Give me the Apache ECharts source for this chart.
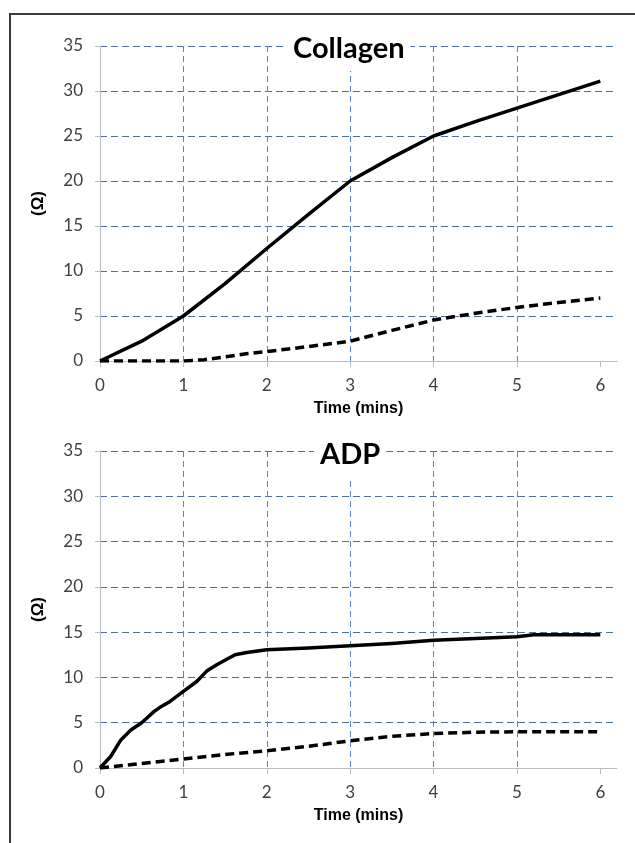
<!DOCTYPE html>
<html>
<head>
<meta charset="utf-8">
<script src="https://cdn.jsdelivr.net/npm/echarts@6/dist/echarts.min.js"></script>
<style>
  html, body { margin: 0; padding: 0; background: #ffffff; overflow: hidden; }
  #wrap { position: relative; width: 635px; height: 843px; }
  #chart { position: absolute; left: 0; top: 0; width: 635px; height: 843px; }
  #frame { position: absolute; left: 9px; top: 13px; width: 700px; height: 900px;
           border-top: 2px solid #3c3c3c; border-left: 2px solid #3c3c3c; pointer-events: none; }
</style>
</head>
<body>
<div id="wrap">
  <div id="chart"></div>
  <div id="frame"></div>
</div>
<script>
// ---- Data ----
const titles = ['Collagen', 'ADP'];
const xTickValues = [0, 1, 2, 3, 4, 5, 6];
const yTickValues = [0, 5, 10, 15, 20, 25, 30, 35];

const collagenSolidTime = [0, 0.5, 1, 1.5, 2, 2.5, 3, 3.5, 4, 4.5, 5, 5.5, 6];
const collagenSolid     = [0, 2.2, 5, 8.6, 12.5, 16.3, 20, 22.6, 25, 26.6, 28.1, 29.6, 31.1];

const collagenDashTime  = [0, 1, 1.25, 1.5, 1.75, 2, 2.5, 3, 3.5, 4, 4.5, 5, 5.5, 6];
const collagenDash      = [0, 0, 0.15, 0.45, 0.8, 1.05, 1.6, 2.2, 3.4, 4.55, 5.3, 5.95, 6.5, 7];

const adpSolidTime = [0, 0.13, 0.25, 0.37, 0.5, 0.65, 0.72, 0.84, 1.0, 1.16, 1.28, 1.4, 1.52, 1.62, 1.76, 2, 2.5, 3, 3.5, 4, 4.5, 5, 5.2, 6];
const adpSolid     = [0, 1.3, 3.1, 4.2, 5.0, 6.25, 6.7, 7.35, 8.45, 9.55, 10.7, 11.4, 12.0, 12.5, 12.75, 13.05, 13.25, 13.5, 13.75, 14.1, 14.3, 14.5, 14.7, 14.7];

const adpDashTime = [0, 1, 1.5, 2, 2.5, 3, 3.5, 4, 4.5, 5, 6];
const adpDash     = [0, 1.0, 1.5, 1.9, 2.4, 3.0, 3.5, 3.8, 3.95, 4.0, 4.0];

function pairs(xs, ys) { return xs.map((x, i) => [x, ys[i]]); }

const tickFont = 'Lato, "Open Sans", sans-serif';
const labelColor = '#404040';

function xAxisCfg(gridIndex) {
  return {
    type: 'value', gridIndex: gridIndex, min: 0, max: 6.2, interval: 1,
    name: 'Time (mins)', nameLocation: 'middle', nameGap: 40,
    nameTextStyle: { fontFamily: '"Liberation Sans", Arial, sans-serif', fontWeight: 'bold', fontSize: 16, color: '#000' },
    axisLine: { show: true, onZero: false, lineStyle: { color: '#bdbdbd', width: 1 } },
    axisTick: { show: true, length: 6, lineStyle: { color: '#bdbdbd' }, customValues: xTickValues },
    axisLabel: { margin: 16, fontFamily: tickFont, fontSize: 17, color: labelColor, customValues: xTickValues,
                 formatter: v => String(v) },
    splitLine: { show: true, showMinLine: false, showMaxLine: false,
                 lineStyle: { color: '#5b82c4', width: 1, type: [6, 4] } }
  };
}
function yAxisCfg(gridIndex) {
  return {
    type: 'value', gridIndex: gridIndex, min: 0, max: 35, interval: 5,
    name: '(Ω)', nameLocation: 'middle', nameGap: 53, nameRotate: 90,
    nameTextStyle: { fontFamily: '"Liberation Sans", Arial, sans-serif', fontWeight: 'bold', fontSize: 17, color: '#000' },
    axisLine: { show: true, lineStyle: { color: '#bdbdbd', width: 1 } },
    axisTick: { show: true, length: 5, lineStyle: { color: '#bdbdbd' } },
    axisLabel: { margin: 17, fontFamily: tickFont, fontSize: 17, color: labelColor },
    splitLine: { show: true, showMinLine: false, showMaxLine: true,
                 lineStyle: { color: '#4f6f9f', width: 1, type: [7, 4] } }
  };
}

function lineSeries(name, idx, data, dashed) {
  return {
    name: name, type: 'line', xAxisIndex: idx, yAxisIndex: idx,
    data: data, showSymbol: false, symbol: 'none', smooth: false, z: 5,
    lineStyle: { color: '#000', width: 3.5, type: dashed ? [9, 5] : 'solid', cap: 'butt', join: 'round' },
    animation: false
  };
}

const chart = echarts.init(document.getElementById('chart'), null, { renderer: 'canvas' });
chart.setOption({
  backgroundColor: 'transparent',
  animation: false,
  title: [
    { text: titles[0], left: 287, top: 30, padding: [4, 6, 8, 6], backgroundColor: '#fff', z: 10,
      textStyle: { fontFamily: 'Lato, sans-serif', fontWeight: 'bold', fontSize: 29, color: '#000' } },
    { text: titles[1], left: 314, top: 436, padding: [4, 6, 8, 6], backgroundColor: '#fff', z: 10,
      textStyle: { fontFamily: 'Lato, sans-serif', fontWeight: 'bold', fontSize: 29, color: '#000' } }
  ],
  grid: [
    { left: 100, top: 46, width: 517, height: 315, containLabel: false },
    { left: 100, top: 451, width: 517, height: 317, containLabel: false }
  ],
  xAxis: [xAxisCfg(0), xAxisCfg(1)],
  yAxis: [yAxisCfg(0), yAxisCfg(1)],
  series: [
    lineSeries('Collagen solid', 0, pairs(collagenSolidTime, collagenSolid), false),
    lineSeries('Collagen dashed', 0, pairs(collagenDashTime, collagenDash), true),
    lineSeries('ADP solid', 1, pairs(adpSolidTime, adpSolid), false),
    lineSeries('ADP dashed', 1, pairs(adpDashTime, adpDash), true)
  ]
});
</script>
</body>
</html>
